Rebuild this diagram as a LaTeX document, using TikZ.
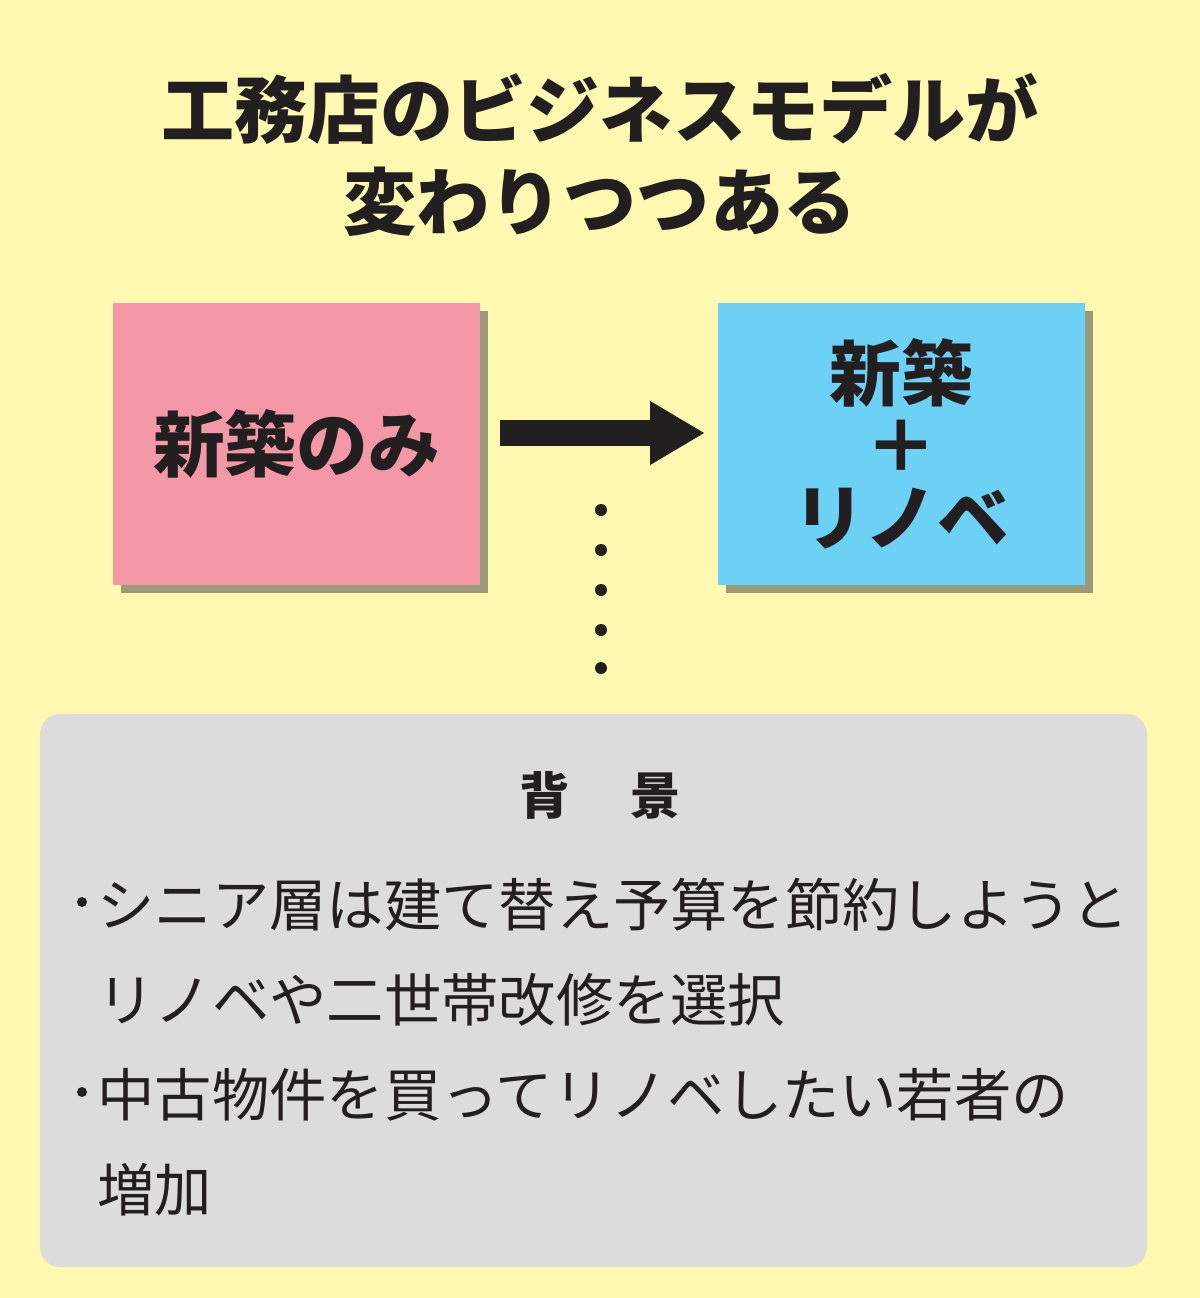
\documentclass[tikz,border=0pt]{standalone}
\usepackage{fontspec}
\newfontfamily\cjk{Noto Sans CJK JP}
\usetikzlibrary{arrows.meta}
\definecolor{bg}{HTML}{FFF8B0}
\definecolor{pinkc}{HTML}{F497A6}
\definecolor{bluec}{HTML}{6DD0F5}
\definecolor{grayc}{HTML}{DDDCDC}
\definecolor{ink}{HTML}{231F20}
\tikzset{box/.style={minimum width=3.67cm,minimum height=2.82cm,inner sep=0,text=ink,font=\cjk\bfseries\fontsize{20.4}{20.5}\selectfont,align=center},
sh/.style={fill=black!70,opacity=0.55},
body/.style={anchor=west,text=ink,font=\cjk\fontsize{16.3}{20}\selectfont,inner sep=0},
bul/.style={fill=ink,circle,inner sep=0,minimum size=0.1cm}}
\begin{document}
\begin{tikzpicture}[x=1cm,y=1cm]
\fill[bg] (0,0) rectangle (12,-12.98);
\useasboundingbox (0,0) rectangle (12,-12.98);
\node[text=ink,font=\cjk\bfseries\fontsize{20.8}{26}\selectfont,align=center] (title) at (6,-1.55) {工務店のビジネスモデルが\\変わりつつある};
\fill[sh] (1.21,-3.11) rectangle (4.88,-5.93);
\fill[sh] (7.26,-3.11) rectangle (10.93,-5.93);
\node[box,fill=pinkc] (a) at (2.965,-4.44) {新築のみ};
\node[box,fill=bluec] (b) at (9.015,-4.44) {新築\\＋\\リノベ};
\draw[ink,line width=0.26cm,-{Triangle[length=0.55cm,width=0.6cm]}] (5.0,-4.33) -- (7.05,-4.33);
\foreach \y in {5.1,5.5,5.9,6.3,6.68} \fill[ink] (6.01,-\y) circle (0.06);
\fill[grayc,rounded corners=0.2cm] (0.4,-7.14) rectangle (11.47,-12.67);
\node[text=ink,font=\cjk\bfseries\fontsize{14.3}{18}\selectfont] (h) at (6,-7.95) {背\hspace{1.2em}景};
\node[bul] (b1) at (0.82,-9.02) {};
\node[body] (l1) at (0.97,-9.05) {シニア層は建て替え予算を節約しようと};
\node[body] (l2) at (0.97,-10.0) {リノベや二世帯改修を選択};
\node[bul] (b3) at (0.82,-10.92) {};
\node[body] (l3) at (0.97,-10.95) {中古物件を買ってリノベしたい若者の};
\node[body] (l4) at (0.97,-11.9) {増加};
\end{tikzpicture}
\end{document}
